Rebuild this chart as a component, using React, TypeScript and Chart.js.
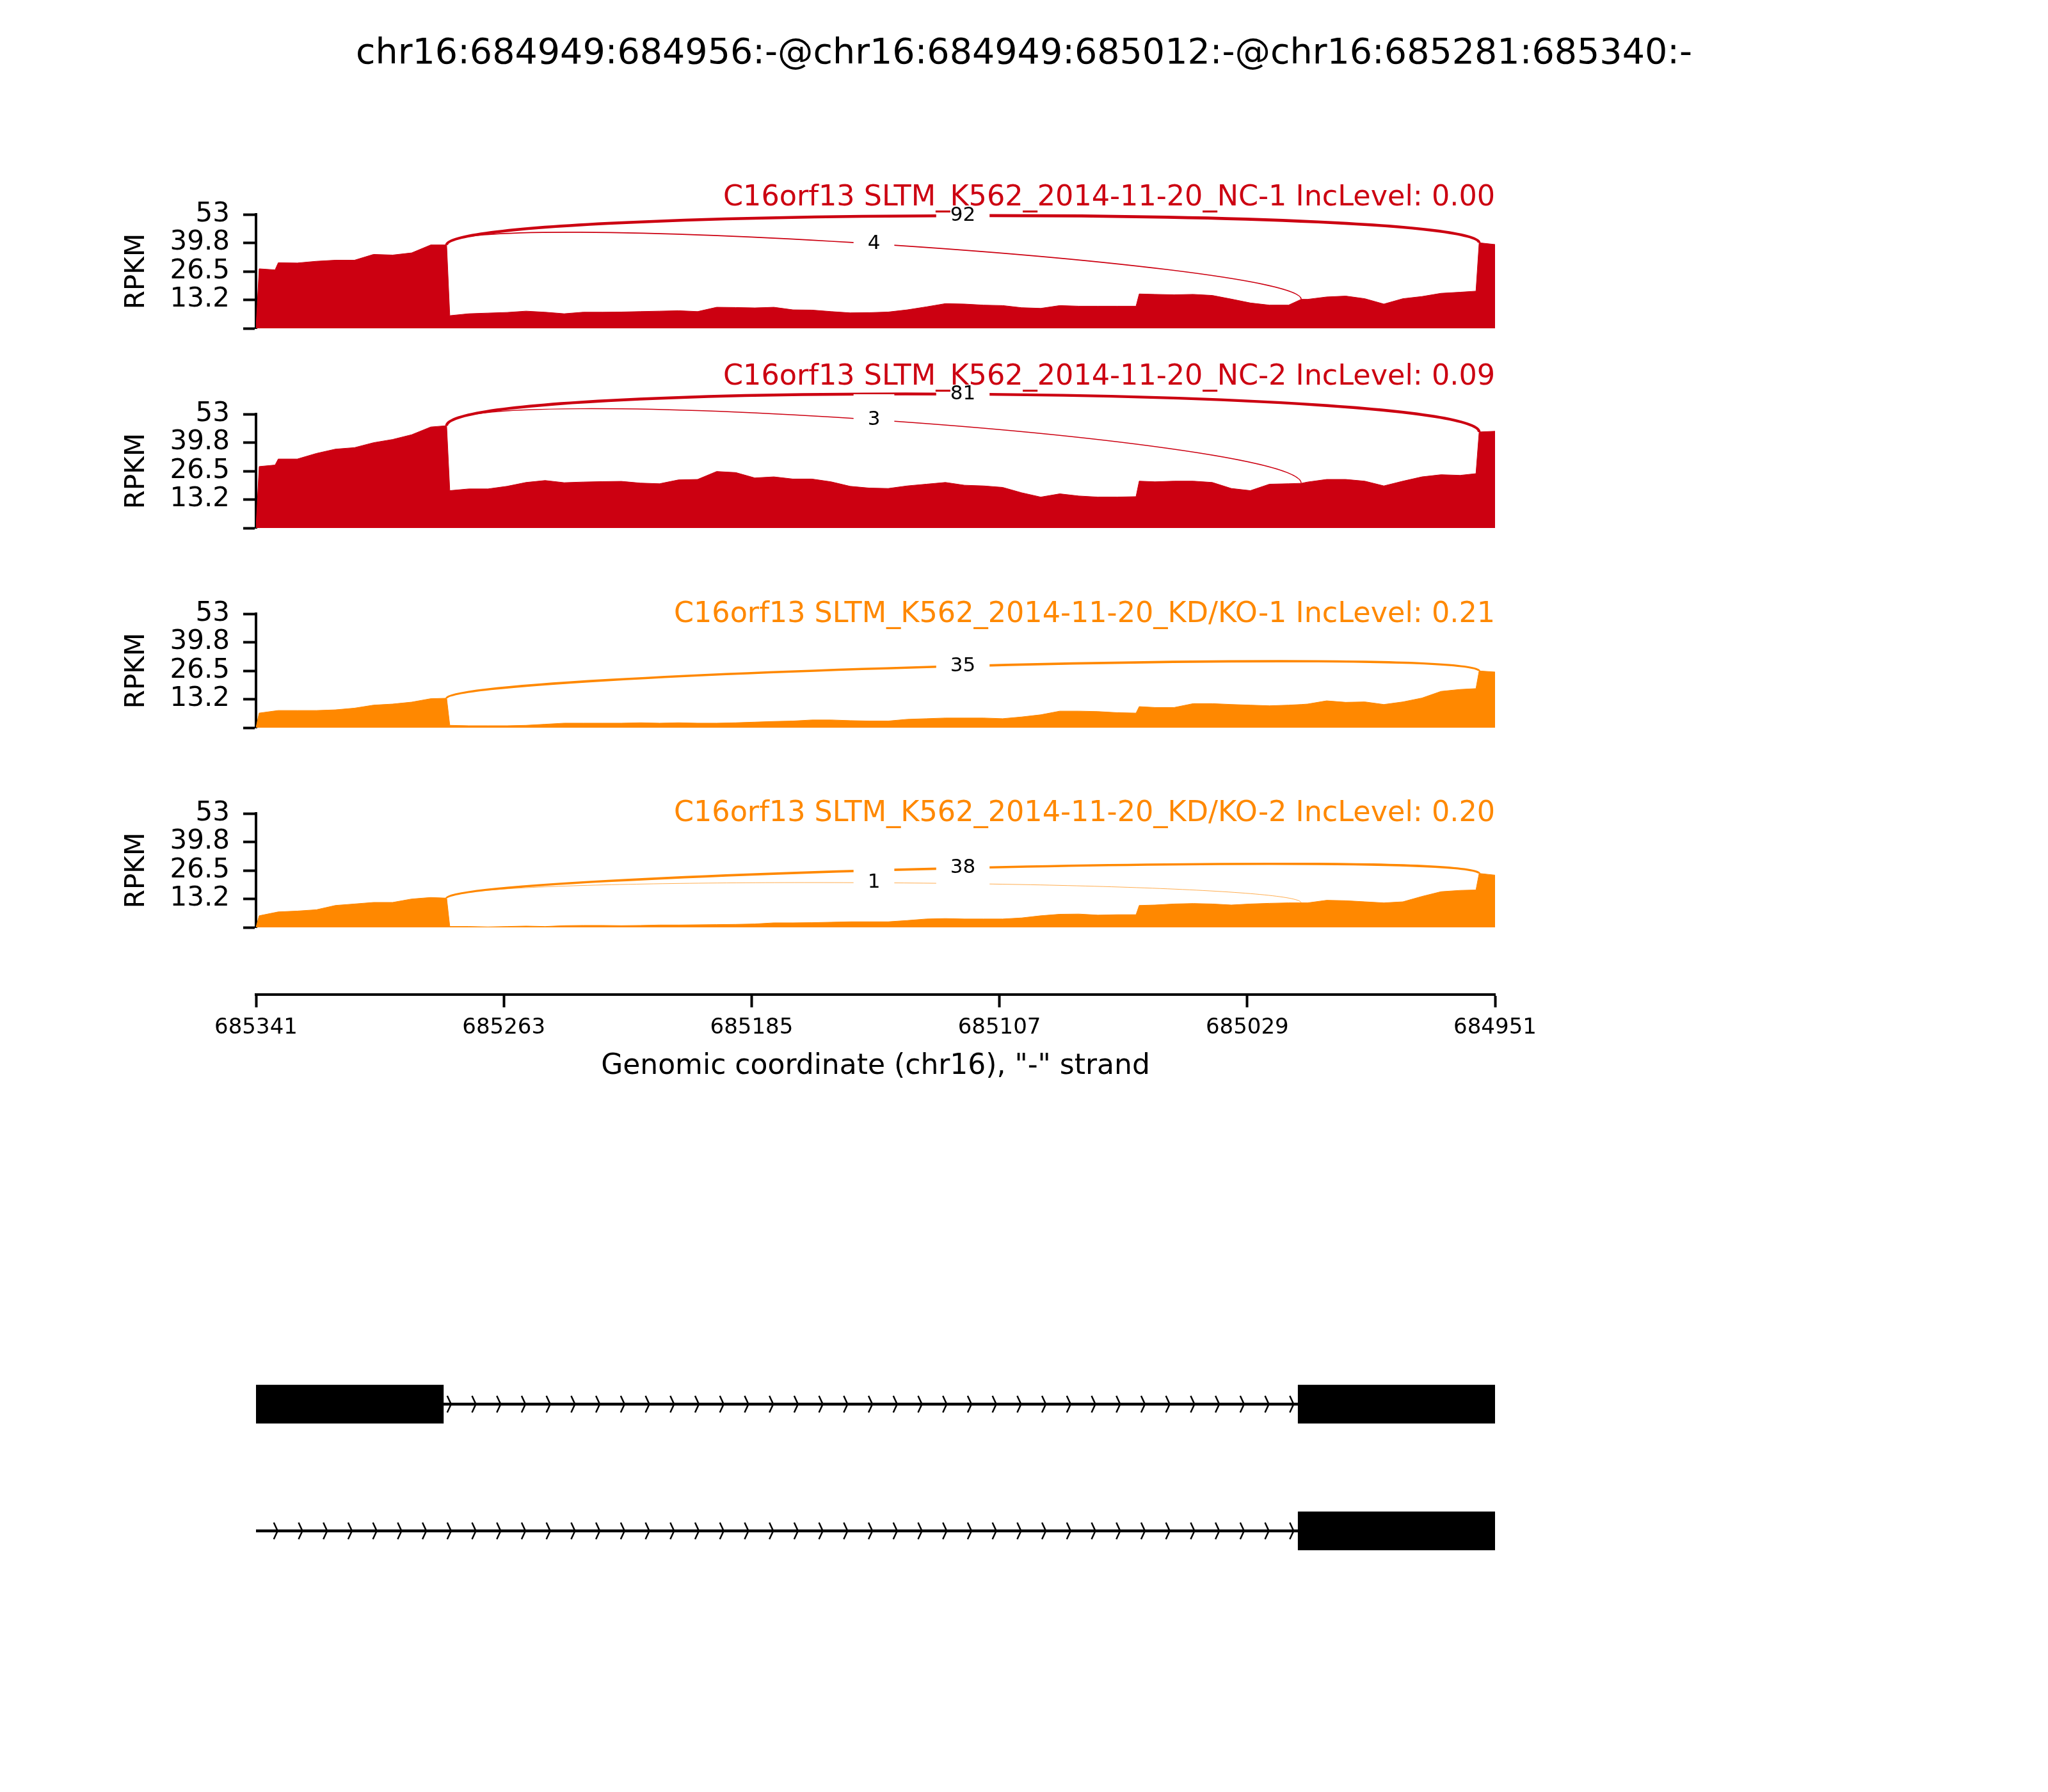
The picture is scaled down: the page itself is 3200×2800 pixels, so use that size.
import React, { useEffect, useRef } from 'react';
import { Chart, registerables } from 'chart.js';

Chart.register(...registerables);

// ---------------- data ----------------
const MAIN_TITLE = 'chr16:684949:684956:-@chr16:684949:685012:-@chr16:685281:685340:-';
const GENE = 'C16orf13';
const SAMPLES = [
  'SLTM_K562_2014-11-20_NC-1',
  'SLTM_K562_2014-11-20_NC-2',
  'SLTM_K562_2014-11-20_KD/KO-1',
  'SLTM_K562_2014-11-20_KD/KO-2',
];
const INC_LEVELS = ['0.00', '0.09', '0.21', '0.20'];
const GROUP_COLORS = ['#CC0011', '#CC0011', '#FF8800', '#FF8800'];

// genomic positions (chr16) where coverage is sampled
const POSITIONS = [
  685341, 685340, 685335, 685334, 685328, 685322, 685316, 685310, 685304, 685298,
  685292, 685286, 685281, 685280, 685274, 685268, 685262, 685256, 685250, 685244,
  685238, 685232, 685226, 685220, 685214, 685208, 685202, 685196, 685190, 685184,
  685178, 685172, 685166, 685160, 685154, 685148, 685142, 685136, 685130, 685124,
  685118, 685112, 685106, 685100, 685094, 685088, 685082, 685076, 685070, 685064,
  685063, 685058, 685052, 685046, 685040, 685034, 685028, 685022, 685016, 685012,
  685010, 685004, 684998, 684992, 684986, 684980, 684974, 684968, 684962, 684957,
  684956, 684951,
];

const COV_NC1 = [
  0, 27.7, 27.2, 30.5, 30.4, 31.2, 31.7, 31.7, 34.4, 34.1,
  35.1, 38.8, 38.8, 5.9, 6.8, 7.1, 7.4, 8.0, 7.5, 6.8,
  7.5, 7.5, 7.6, 7.8, 8.0, 8.2, 7.8, 9.8, 9.7, 9.5,
  9.8, 8.6, 8.5, 7.8, 7.2, 7.3, 7.6, 8.6, 10.0, 11.5,
  11.3, 10.8, 10.6, 9.6, 9.3, 10.6, 10.3, 10.3, 10.3, 10.3,
  16.0, 15.8, 15.6, 15.8, 15.3, 13.6, 11.8, 10.8, 10.8, 13.5,
  13.5, 14.6, 15.0, 13.8, 11.3, 13.8, 14.8, 16.3, 16.8, 17.3,
  39.8, 39.0,
];
const COV_NC2 = [
  0, 28.6, 29.3, 32.1, 32.1, 34.7, 36.7, 37.4, 39.7, 41.2,
  43.4, 47.0, 47.6, 17.4, 18.2, 18.2, 19.4, 21.2, 22.1, 21.1,
  21.4, 21.6, 21.7, 20.9, 20.6, 22.4, 22.6, 26.3, 25.8, 23.3,
  23.8, 22.8, 22.8, 21.5, 19.4, 18.6, 18.4, 19.6, 20.4, 21.2,
  19.9, 19.6, 18.9, 16.4, 14.4, 15.9, 14.9, 14.4, 14.4, 14.6,
  21.8, 21.5, 21.8, 21.8, 21.2, 18.4, 17.4, 20.4, 20.6, 20.8,
  21.4, 22.6, 22.6, 21.8, 19.6, 21.8, 23.8, 24.8, 24.5, 25.3,
  44.7, 45.0,
];
const COV_KD1 = [
  0, 6.8, 7.8, 8.0, 8.0, 8.0, 8.3, 9.1, 10.5, 11.0,
  11.9, 13.5, 13.7, 1.1, 0.9, 0.9, 0.9, 1.1, 1.6, 2.1,
  2.1, 2.1, 2.1, 2.3, 2.1, 2.3, 2.1, 2.1, 2.3, 2.6,
  2.9, 3.1, 3.6, 3.6, 3.3, 3.1, 3.1, 3.9, 4.2, 4.5,
  4.5, 4.5, 4.2, 5.0, 6.0, 7.7, 7.7, 7.5, 7.0, 6.8,
  9.8, 9.4, 9.4, 11.2, 11.2, 10.8, 10.5, 10.2, 10.5, 10.8,
  11.0, 12.5, 11.8, 12.0, 10.8, 12.0, 13.8, 16.9, 17.8, 18.2,
  26.4, 25.9,
];
const COV_KD2 = [
  0, 5.4, 6.9, 7.2, 7.6, 8.2, 10.2, 10.9, 11.6, 11.6,
  13.2, 13.9, 13.6, 0.4, 0.4, 0.2, 0.4, 0.6, 0.4, 0.8,
  0.9, 0.9, 0.8, 0.9, 1.1, 1.1, 1.2, 1.3, 1.4, 1.6,
  2.1, 2.1, 2.2, 2.4, 2.6, 2.6, 2.6, 3.2, 3.9, 4.1,
  3.9, 3.9, 3.9, 4.4, 5.4, 6.1, 6.2, 5.7, 5.9, 5.9,
  10.2, 10.4, 10.9, 11.1, 10.9, 10.4, 10.9, 11.2, 11.4, 11.4,
  11.4, 12.6, 12.4, 11.9, 11.4, 11.9, 14.4, 16.6, 17.2, 17.4,
  25.1, 24.3,
];

const JUNCTION_STARTS = [685281, 685281];
const JUNCTION_ENDS = [684956, 685012];
const JUNC_NC1 = [92, 4];
const JUNC_NC2 = [81, 3];
const JUNC_KD1 = [35, 0];
const JUNC_KD2 = [38, 1];

const Y_TICK_VALUES = [0, 13.25, 26.5, 39.75, 53];
const Y_TICK_LABELS = ['', '13.2', '26.5', '39.8', '53'];
const X_TICK_VALUES = [685341, 685263, 685185, 685107, 685029, 684951];
const X_MIN = 684951;
const X_MAX = 685341;
const X_LABEL = 'Genomic coordinate (chr16), "-" strand';

// gene models: [start, end] in genomic coordinates
const TX1_EXON_A = [685282, 685341];
const TX1_EXON_B = [684950, 685013];
const TX2_EXON_B = [684950, 685013];
const TX1_INTRON = [685013, 685282];
const TX2_INTRON = [685013, 685341];

const COVERAGE = [COV_NC1, COV_NC2, COV_KD1, COV_KD2];
const JUNCTION_COUNTS = [JUNC_NC1, JUNC_NC2, JUNC_KD1, JUNC_KD2];

// ---------------- layout / style ----------------
const FONT = 'DejaVu Sans';
const PAGE_W = 3200;
const PLOT_LEFT = 400;
const PLOT_RIGHT = 2336;
const PANEL_TOPS = [335, 647, 959, 1271];
const PANEL_H = 178;
const PANEL_BOTTOM_PAD = 70;
const TITLE_DY = [-14, -46, 13, 12];
const ARC_LIFT = [17.5, 21.5, 11.5, 11];
const ARROW_ANCHOR = 685334.4;
const ARROW_STEP = 7.8;

Chart.defaults.font.family = FONT;

function panelConfig(i: number, canvasTop: number, canvasH: number): any {
  const color = GROUP_COLORS[i];
  const cov = COVERAGE[i];
  const padTop = PANEL_TOPS[i] - canvasTop;
  const padBottom = canvasH - padTop - PANEL_H;

  const sashimi = {
    id: 'sashimi' + i,
    afterDatasetsDraw(chart: any) {
      const { ctx, chartArea } = chart;
      const xs = chart.scales.x;
      const ys = chart.scales.y;
      const densAt = (g: number) => cov[POSITIONS.indexOf(g)];
      const lift = ARC_LIFT[i];
      const labels: { n: number; x: number; y: number }[] = [];
      ctx.save();
      JUNCTION_STARTS.forEach((s, j) => {
        const n = JUNCTION_COUNTS[i][j];
        if (!n) return;
        const e = JUNCTION_ENDS[j];
        const d1 = densAt(s);
        const d2 = densAt(e);
        const x0 = xs.getPixelForValue(s);
        const y0 = ys.getPixelForValue(d1);
        const y1 = ys.getPixelForValue(d1 + lift);
        const x3 = xs.getPixelForValue(e);
        const y3 = ys.getPixelForValue(d2);
        const y2 = ys.getPixelForValue(d2 + lift);
        ctx.beginPath();
        ctx.moveTo(x0, y0);
        ctx.bezierCurveTo(x0, y1, x3, y2, x3, y3);
        ctx.strokeStyle = color;
        ctx.lineWidth = Math.log(n + 1);
        ctx.stroke();
        labels.push({
          n,
          x: (x0 + 3 * x0 + 3 * x3 + x3) / 8,
          y: (y0 + 3 * y1 + 3 * y2 + y3) / 8,
        });
      });
      ctx.font = `31px "${FONT}"`;
      ctx.textAlign = 'center';
      ctx.textBaseline = 'middle';
      labels.forEach((l) => {
        const t = String(l.n);
        const w = ctx.measureText(t).width;
        ctx.fillStyle = '#ffffff';
        ctx.fillRect(l.x - w / 2 - 22, l.y - 40, w + 44, 80);
        ctx.fillStyle = '#000000';
        ctx.fillText(t, l.x, l.y);
      });
      // panel title
      ctx.font = `44.5px "${FONT}"`;
      ctx.textAlign = 'right';
      ctx.textBaseline = 'alphabetic';
      ctx.fillStyle = color;
      ctx.fillText(`${GENE} ${SAMPLES[i]} IncLevel: ${INC_LEVELS[i]}`, chartArea.right, chartArea.top + TITLE_DY[i]);
      if (i === 0) {
        ctx.font = `55.5px "${FONT}"`;
        ctx.textAlign = 'center';
        ctx.fillStyle = '#000000';
        ctx.fillText(MAIN_TITLE, PAGE_W / 2, 99 - canvasTop);
      }
      ctx.restore();
    },
  };

  return {
    type: 'line',
    data: {
      datasets: [
        {
          data: POSITIONS.map((x, k) => ({ x, y: cov[k] })),
          fill: 'origin',
          backgroundColor: color,
          borderColor: color,
          borderWidth: 1,
          pointRadius: 0,
          tension: 0,
        },
      ],
    },
    options: {
      responsive: false,
      animation: false,
      devicePixelRatio: 1,
      events: [],
      layout: { padding: { left: 0, right: PAGE_W - PLOT_RIGHT, top: padTop, bottom: padBottom } },
      plugins: { legend: { display: false }, tooltip: { enabled: false }, title: { display: false } },
      scales: {
        x: { type: 'linear', min: X_MIN, max: X_MAX, reverse: true, display: false },
        y: {
          type: 'linear',
          min: 0,
          max: 53,
          afterBuildTicks: (scale: any) => {
            scale.ticks = Y_TICK_VALUES.map((v) => ({ value: v }));
          },
          afterFit: (scale: any) => {
            scale.width = PLOT_LEFT;
          },
          ticks: {
            autoSkip: false,
            color: '#000',
            font: { size: 42, family: FONT },
            padding: 21,
            callback: (_v: any, idx: number) => Y_TICK_LABELS[idx],
          },
          grid: { drawOnChartArea: false, drawTicks: true, tickLength: 20, tickWidth: 4, tickColor: '#000' },
          border: { display: true, color: '#000', width: 4 },
          title: {
            display: true,
            text: 'RPKM',
            color: '#000',
            font: { size: 42, family: FONT },
            padding: { top: 189, bottom: 0 },
          },
        },
      },
    },
    plugins: [sashimi],
  };
}

function axisConfig(): any {
  return {
    type: 'line',
    data: { datasets: [] },
    options: {
      responsive: false,
      animation: false,
      devicePixelRatio: 1,
      events: [],
      layout: { padding: { left: PLOT_LEFT, right: PAGE_W - PLOT_RIGHT, top: 0, bottom: 0 } },
      plugins: { legend: { display: false }, tooltip: { enabled: false } },
      scales: {
        x: {
          type: 'linear',
          min: X_MIN,
          max: X_MAX,
          reverse: true,
          afterBuildTicks: (scale: any) => {
            scale.ticks = X_TICK_VALUES.map((v) => ({ value: v }));
          },
          afterFit: (scale: any) => {
            scale.height = 200;
          },
          ticks: {
            autoSkip: false,
            maxRotation: 0,
            color: '#000',
            font: { size: 34, family: FONT },
            padding: 12,
            callback: (v: any) => String(v),
          },
          grid: { drawOnChartArea: false, drawTicks: true, tickLength: 20, tickWidth: 4, tickColor: '#000' },
          border: { display: true, color: '#000', width: 4 },
          title: {
            display: true,
            text: X_LABEL,
            color: '#000',
            font: { size: 44, family: FONT },
            padding: { top: 0, bottom: 61 },
          },
        },
        y: { display: false, min: 0, max: 1 },
      },
    },
  };
}

function geneConfig(): any {
  const arrows = {
    id: 'introns',
    afterDatasetsDraw(chart: any) {
      const { ctx } = chart;
      const xs = chart.scales.x;
      const ys = chart.scales.y;
      const introns = [TX1_INTRON, TX2_INTRON];
      ctx.save();
      ctx.strokeStyle = '#000';
      ctx.lineWidth = 2.5;
      introns.forEach((iv, t) => {
        const yc = ys.getPixelForValue(t);
        const lo = Math.min(iv[0], iv[1]);
        const hi = Math.max(iv[0], iv[1]);
        for (let g = ARROW_ANCHOR; g > X_MIN; g -= ARROW_STEP) {
          if (g <= lo + 0.5 || g >= hi - 0.5) continue;
          const x = xs.getPixelForValue(g);
          ctx.beginPath();
          ctx.moveTo(x - 5, yc - 13);
          ctx.lineTo(x + 1, yc);
          ctx.lineTo(x - 5, yc + 13);
          ctx.stroke();
        }
      });
      ctx.restore();
    },
  };
  return {
    type: 'bar',
    data: {
      labels: ['tx1', 'tx2'],
      datasets: [
        { data: [TX1_EXON_A, null], backgroundColor: '#000', barThickness: 60, grouped: false, borderWidth: 0 },
        { data: [TX1_EXON_B, TX2_EXON_B], backgroundColor: '#000', barThickness: 60, grouped: false, borderWidth: 0 },
        { data: [TX1_INTRON, TX2_INTRON], backgroundColor: '#000', barThickness: 4, grouped: false, borderWidth: 0 },
      ],
    },
    options: {
      indexAxis: 'y',
      responsive: false,
      animation: false,
      devicePixelRatio: 1,
      events: [],
      layout: { padding: { left: PLOT_LEFT, right: PAGE_W - PLOT_RIGHT, top: 95, bottom: 69 } },
      plugins: { legend: { display: false }, tooltip: { enabled: false } },
      scales: {
        x: { type: 'linear', min: X_MIN, max: X_MAX, reverse: true, display: false },
        y: { type: 'category', display: false, offset: true },
      },
    },
    plugins: [arrows],
  };
}

function ChartCanvas({ top, height, make }: { top: number; height: number; make: () => any }) {
  const ref = useRef<HTMLCanvasElement>(null);
  useEffect(() => {
    if (!ref.current) return;
    const chart = new Chart(ref.current, make());
    return () => chart.destroy();
  }, []);
  return (
    <canvas
      ref={ref}
      width={PAGE_W}
      height={height}
      style={{ position: 'absolute', left: 0, top, width: PAGE_W, height, display: 'block' }}
    />
  );
}

export default function App() {
  const panels = [0, 1, 2, 3].map((i) => {
    const top = i === 0 ? 0 : PANEL_TOPS[i] - 100;
    const height = PANEL_TOPS[i] - top + PANEL_H + PANEL_BOTTOM_PAD;
    return <ChartCanvas key={i} top={top} height={height} make={() => panelConfig(i, top, height)} />;
  });
  return (
    <div style={{ position: 'absolute', left: 0, top: 0, width: PAGE_W, height: 2800, background: '#fff' }}>
      {panels}
      <ChartCanvas top={1454} height={300} make={axisConfig} />
      <ChartCanvas top={2000} height={560} make={geneConfig} />
    </div>
  );
}
